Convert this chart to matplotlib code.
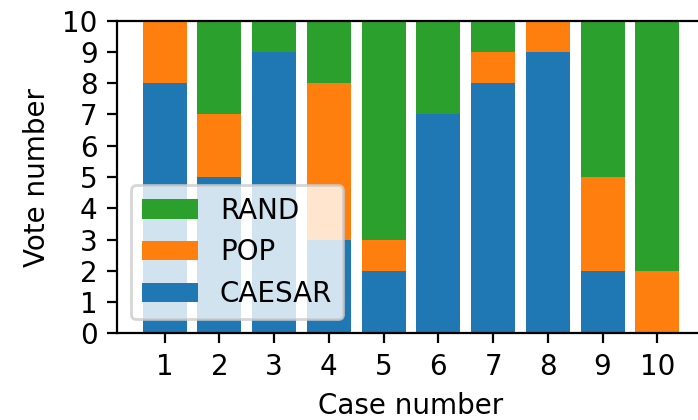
import numpy as np
import matplotlib
matplotlib.use("Agg")
import matplotlib.pyplot as plt

cases = np.arange(1, 11)
caesar = [8, 5, 9, 3, 2, 7, 8, 9, 2, 0]
pop = [2, 2, 0, 5, 1, 0, 1, 1, 3, 2]
rand = [0, 3, 1, 2, 7, 3, 1, 0, 5, 8]

plt.rcParams['font.size'] = 10

fig = plt.figure(figsize=(3.49, 2.1), dpi=200)
# right edge of the axes runs slightly past the figure, as in the reference crop
ax = fig.add_axes([0.1676, 0.2064, 0.8424, 0.7443])

b1 = ax.bar(cases, caesar, 0.8, color='#1f77b4', label='CAESAR')
b2 = ax.bar(cases, pop, 0.8, bottom=caesar, color='#ff7f0e', label='POP')
bottom2 = np.array(caesar) + np.array(pop)
b3 = ax.bar(cases, rand, 0.8, bottom=bottom2, color='#2ca02c', label='RAND')

ax.set_xlim(0.13, 10.87)
ax.set_ylim(0, 10)
ax.set_yticks(range(0, 11))
ax.set_xticks(cases)
ax.set_xlabel("Case number")
ax.set_ylabel("Vote number")
ax.legend([b3, b2, b1], ['RAND', 'POP', 'CAESAR'], loc='lower left')

fig.savefig("out.png", dpi=200)
